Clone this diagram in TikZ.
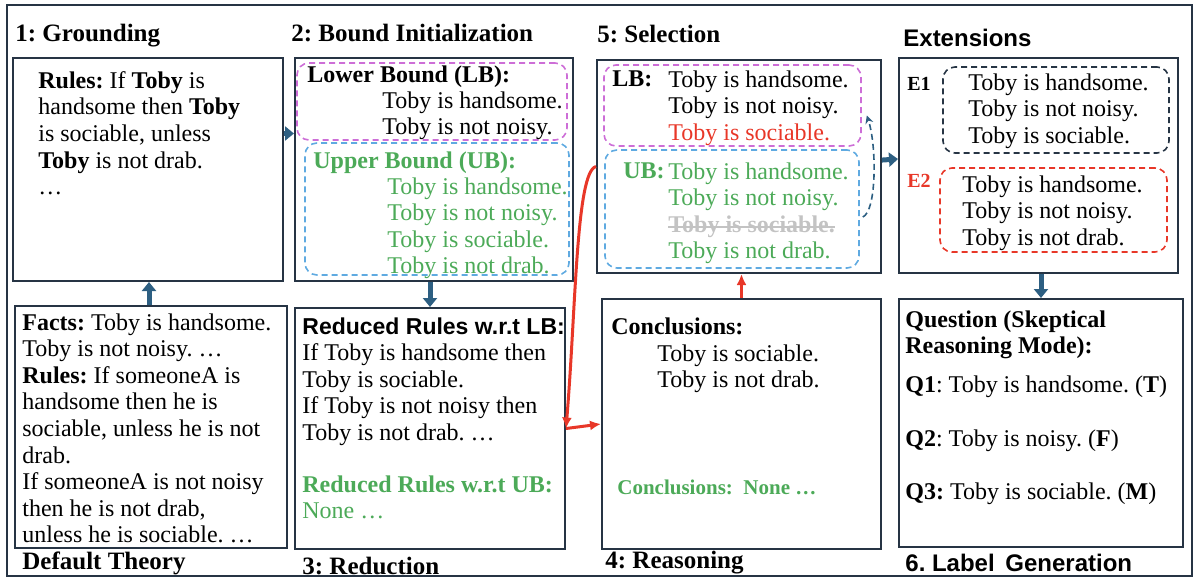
\documentclass[tikz,border=0pt]{standalone}
\usepackage{fontspec}
\setmainfont{Liberation Serif}
\setsansfont{Liberation Sans}
\usetikzlibrary{arrows.meta}
\usetikzlibrary{fit}
\usetikzlibrary{calc}

\definecolor{framecol}{RGB}{38,52,68}
\definecolor{flowcol}{RGB}{45,95,130}
\definecolor{ubgreen}{RGB}{76,170,88}
\definecolor{lbpink}{RGB}{205,110,215}
\definecolor{ubblue}{RGB}{95,170,225}
\definecolor{hotred}{RGB}{232,55,40}
\definecolor{strikegray}{RGB}{195,195,195}

\tikzset{
	box/.style={draw=framecol, line width=1pt, inner sep=0pt},
	lbbox/.style={draw=lbpink, line width=0.8pt, dash pattern=on 3pt off 2pt, rounded corners=6pt, inner sep=0pt},
	ubbox/.style={draw=ubblue, line width=0.8pt, dash pattern=on 3pt off 2pt, rounded corners=6pt, inner sep=0pt},
	txt/.style={anchor=north west, inner sep=0pt, align=left, font=\fontsize{12}{13.3}\selectfont},
	title/.style={anchor=west, inner sep=0pt, font=\fontsize{12.5}{14}\selectfont\bfseries},
	sftitle/.style={anchor=west, inner sep=0pt, font=\fontsize{12}{14}\selectfont\sffamily\bfseries},
	flow/.style={draw=flowcol, line width=2.5pt, -{Triangle[length=4.5pt,width=7pt]}},
	redflow/.style={draw=hotred, line width=1.5pt, -{Latex[length=5.5pt,width=5pt]}}
}

\begin{document}
\frenchspacing
\begin{tikzpicture}[x=0.5pt, y=-0.5pt]
	\useasboundingbox (0,0) rectangle (1196,579);

	% draw outer frame
	\node[box, fit={(7,5) (1192,576)}] (frame) {};

	% draw the boxes
	\node[box, fit={(13,58) (283,281)}] (ground) {};
	\node[box, fit={(15,306) (287,548)}] (theory) {};
	\node[box, fit={(295,58) (573,281)}] (bound) {};
	\node[lbbox, fit={(297,63) (567,140)}] (boundLB) {};
	\node[ubbox, fit={(305,143) (569,275)}] (boundUB) {};
	\node[box, fit={(295,308) (565,549)}] (reduce) {};
	\node[box, fit={(597,60) (881,273)}] (select) {};
	\node[lbbox, fit={(604,65) (861,146)}] (selLB) {};
	\node[ubbox, fit={(605,150) (859,268)}] (selUB) {};
	\node[box, fit={(602,299) (881,549)}] (reason) {};
	\node[box, fit={(899,58) (1178,273)}] (ext) {};
	\node[lbbox, draw=framecol, fit={(943,67) (1169,153)}] (extA) {};
	\node[lbbox, draw=hotred, fit={(940,168) (1167,252)}] (extB) {};
	\node[box, fit={(899,299) (1183,547)}] (quest) {};

	% draw step titles
	\node[title] (groundTitle) at (15,36) {1: Grounding};
	\node[title] (boundTitle) at (291,33) {2: Bound Initialization};
	\node[title] (selectTitle) at (597,34) {5: Selection};
	\node[sftitle] (extTitle) at (903,38) {Extensions};
	\node[title] (theoryTitle) at (22,563) {Default Theory};
	\node[title] (reduceTitle) at (302,566) {3: Reduction};
	\node[title] (reasonTitle) at (605,563) {4: Reasoning};
	\node[sftitle] (questTitle) at (905,563) {6. Label\, Generation};

	% 1: grounding
	\node[txt] (groundText) at (38,71) {\textbf{Rules:} If \textbf{Toby} is\\
		handsome then \textbf{Toby}\\
		is sociable, unless\\
		\textbf{Toby} is not drab.\\
		…};

	% default theory
	\node[txt] (theoryText) at (22,313) {\textbf{Facts:} Toby is handsome.\\
		Toby is not noisy. …\\
		\textbf{Rules:} If someoneA is\\
		handsome then he is\\
		sociable, unless he is not\\
		drab.\\
		If someoneA is not noisy\\
		then he is not drab,\\
		unless he is sociable. …};

	% 2: bound initialization
	\node[txt] (boundLBHead) at (307,65) {\textbf{Lower Bound (LB):}};
	\node[txt] (boundLBText) at (382,91) {Toby is handsome.\\Toby is not noisy.};
	\node[txt, text=ubgreen] (boundUBHead) at (313,151) {\textbf{Upper Bound (UB):}};
	\node[txt, text=ubgreen] (boundUBText) at (387,177) {Toby is handsome.\\
		Toby is not noisy.\\
		Toby is sociable.\\
		Toby is not drab.};

	% 3: reduction
	\node[txt] (reduceLB) at (302,317) {\fontsize{11.5}{13.3}\selectfont\sffamily\bfseries Reduced Rules w.r.t LB:\\
		If Toby is handsome then\\
		Toby is sociable.\\
		If Toby is not noisy then\\
		Toby is not drab. …};
	\node[txt, text=ubgreen] (reduceUB) at (302,475) {\textbf{Reduced Rules w.r.t UB:}\\None …};

	% 4: reasoning
	\node[txt] (reasonHead) at (611,317) {\textbf{Conclusions:}};
	\node[txt] (reasonText) at (657,344) {Toby is sociable.\\Toby is not drab.};
	\node[txt, text=ubgreen, font=\fontsize{10.5}{12}\selectfont\bfseries] (reasonUB) at (617,480) {Conclusions:\enspace None …};

	% 5: selection
	\node[txt] (selLBHead) at (612,70) {\textbf{LB:}};
	\node[txt] (selLBText) at (668,70) {Toby is handsome.\\
		Toby is not noisy.\\
		\textcolor{hotred}{Toby is sociable.}};
	\node[txt, text=ubgreen] (selUBHead) at (623,162) {\textbf{UB:}};
	\node[txt, text=ubgreen] (selUBText) at (668,162) {Toby is handsome.\\Toby is not noisy.};
	\node[txt, anchor=west, text=strikegray, font=\fontsize{12}{13.3}\selectfont\bfseries] (struck) at (668,227) {Toby is sociable.};
	\draw[strikegray, line width=0.9pt] (struck.west) -- (struck.east);
	\node[txt, text=ubgreen] (selUBLast) at (668,241) {Toby is not drab.};

	% extensions
	\node[txt, anchor=west, font=\fontsize{10}{12}\selectfont\bfseries] (extALabel) at (907,84) {E1};
	\node[txt] (extAText) at (968,73) {Toby is handsome.\\
		Toby is not noisy.\\
		Toby is sociable.};
	\node[txt, anchor=west, text=hotred, font=\fontsize{10}{12}\selectfont\bfseries] (extBLabel) at (907,181) {E2};
	\node[txt] (extBText) at (962,175) {Toby is handsome.\\
		Toby is not noisy.\\
		Toby is not drab.};

	% 6: label generation
	\node[txt] (questHead) at (905,310) {\textbf{Question (Skeptical}\\\textbf{Reasoning Mode):}};
	\node[txt, anchor=west] (questA) at (905,387) {\textbf{Q1}: Toby is handsome. (\textbf{T})};
	\node[txt, anchor=west] (questB) at (905,441) {\textbf{Q2}: Toby is noisy. (\textbf{F})};
	\node[txt, anchor=west] (questC) at (905,494) {\textbf{Q3:} Toby is sociable. (\textbf{M})};

	% draw the flow arrows
	\draw[flow] ($(theory.north)+(-2,0)$) -- ($(theory.north |- ground.south)+(-2,0)$);
	\draw[flow] ($(ground.north east)!0.34!(ground.south east)$) -- ($(bound.north west)!0.34!(bound.south west)$);
	\draw[flow] (reduce.north |- bound.south) -- (reduce.north);
	\draw[flow] ($(select.north east)!0.47!(select.south east)$) -- ($(ext.north west)!0.47!(ext.south west)$);
	\draw[flow] (quest.north |- ext.south) -- (quest.north);

	% draw the red loop
	\draw[redflow] (reason.north) -- (reason.north |- select.south);
	\draw[redflow] (select.west) .. controls +(-20,5) and +(10,-120) .. (reduce.east);
	\draw[redflow] (reduce.east) -- (reason.west);

	% draw the selection arrow
	\draw[draw=flowcol, line width=0.8pt, dash pattern=on 3pt off 2pt, -{Stealth[length=4pt,width=4pt]}]
		($(selUB.east)+(3,8)$) .. controls +(14,-6) and +(10,30) .. ($(selLB.east)+(5,10)$);
\end{tikzpicture}
\end{document}
